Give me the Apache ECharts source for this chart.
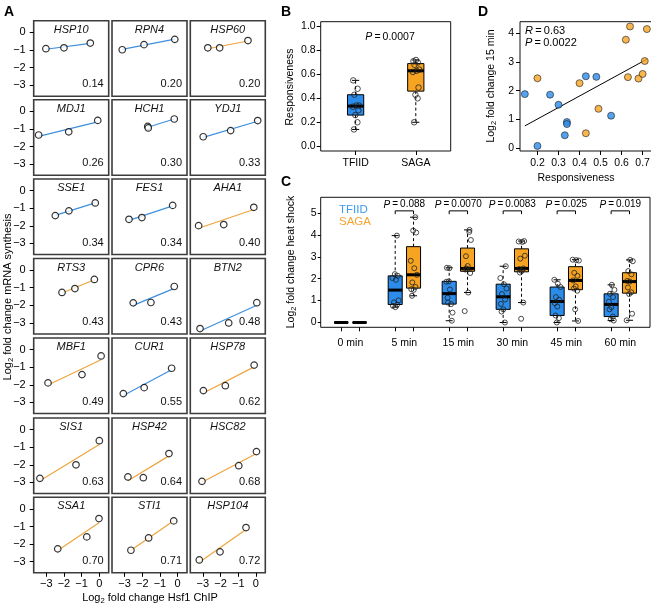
<!DOCTYPE html>
<html><head><meta charset="utf-8">
<script src="https://cdn.jsdelivr.net/npm/echarts@6/dist/echarts.min.js"></script>
<style>html,body{margin:0;padding:0;background:#fff}#c{width:651px;height:606px}</style>
</head><body><div id="c"></div>
<script>
// ================= DATA =================
// Panel A
const genes = ['HSP10','RPN4','HSP60','MDJ1','HCH1','YDJ1','SSE1','FES1','AHA1','RTS3','CPR6','BTN2','MBF1','CUR1','HSP78','SIS1','HSP42','HSC82','SSA1','STI1','HSP104'];
const geneGroup = ['TFIID','TFIID','SAGA','TFIID','TFIID','TFIID','TFIID','TFIID','SAGA','SAGA','TFIID','TFIID','SAGA','TFIID','SAGA','SAGA','SAGA','SAGA','SAGA','SAGA','SAGA'];
const responsiveness = [0.14,0.20,0.20,0.26,0.30,0.33,0.34,0.34,0.40,0.43,0.43,0.48,0.49,0.55,0.62,0.63,0.64,0.68,0.70,0.71,0.72];
const hsf1ChIP = [
  [-3.02,-2.00,-0.51],[-3.13,-1.90,-0.16],[-2.72,-2.05,-0.45],
  [-3.43,-1.73,-0.09],[-1.69,-1.66,-0.19],[-2.98,-1.43,0.10],
  [-2.49,-1.72,-0.23],[-2.75,-2.02,-0.28],[-3.24,-1.82,-0.12],
  [-2.11,-1.38,-0.28],[-2.51,-1.51,-0.19],[-3.16,-1.54,0.05],
  [-2.90,-0.98,0.10],[-3.07,-1.89,-0.34],[-2.97,-1.73,-0.10],
  [-3.36,-1.32,0.00],[-2.81,-1.94,-0.49],[-3.05,-0.97,0.03],
  [-2.35,-0.71,-0.02],[-2.64,-1.64,-0.22],[-3.20,-2.03,-0.56]
];
const mRNASynthesis = [
  [-0.93,-0.88,-0.61],[-0.99,-0.70,-0.40],[-0.88,-0.88,-0.47],
  [-1.34,-1.16,-0.51],[-0.85,-0.94,-0.43],[-1.44,-1.09,-0.52],
  [-1.42,-1.15,-0.70],[-1.63,-1.53,-0.84],[-1.99,-1.93,-0.95],
  [-1.27,-1.05,-0.53],[-1.86,-1.84,-0.93],[-3.32,-3.00,-1.85],
  [-1.89,-1.42,-0.36],[-2.50,-2.16,-1.06],[-2.33,-2.05,-0.88],
  [-2.77,-2.00,-0.63],[-2.69,-2.73,-1.36],[-2.94,-2.05,-1.25],
  [-2.27,-1.59,-0.55],[-2.35,-1.65,-0.68],[-2.90,-2.44,-1.06]
];
const aTicks = [-3,-2,-1,0];
// Panel D: log2 fold change at 15 min, per gene (same order as genes)
const fc15 = [1.88,0.08,2.43,1.86,1.51,0.45,0.91,0.84,2.26,0.52,2.50,2.48,1.37,1.13,3.77,2.47,4.23,2.42,2.58,3.03,4.14];
const dStats = {R:'0.63', P:'0.0022'};
// Panel B
const bGroups = ['TFIID','SAGA'];
const bPValue = '0.0007';
// Panel C (heat shock time course)
const timeLabels = ['0 min','5 min','15 min','30 min','45 min','60 min'];
const tfiid0 = [0,0,0,0,0,0,0,0,0,0];
const saga0  = [0,0,0,0,0,0,0,0,0,0,0];
const tfiid5 = [3.97,2.21,2.13,2.03,1.95,1.01,0.92,0.82,0.76,0.70];
const saga5  = [4.81,4.20,4.11,2.82,2.48,2.18,1.83,1.62,1.52,1.49,1.22];
const tfiid30 = [2.57,2.03,1.75,1.55,1.30,1.05,0.85,0.60,0.50,0.00];
const saga30  = [3.72,3.70,3.68,3.05,2.92,2.47,2.44,2.35,2.28,0.91,0.17];
const tfiid45 = [1.95,1.77,1.62,1.16,1.04,0.88,0.73,0.32,0.20,0.00];
const saga45  = [2.87,2.85,2.83,2.27,2.13,1.92,1.65,1.55,1.45,0.60,0.07];
const tfiid60 = [1.72,1.49,1.31,1.16,0.95,0.70,0.60,0.27,0.15,0.09];
const saga60  = [2.86,2.80,2.35,2.20,1.90,1.87,1.60,1.38,1.30,0.40,0.10];
const cPValues = ['0.088','0.0070','0.0083','0.025','0.019'];

// ================= HELPERS =================
const FONT = '"Liberation Sans", Arial, Helvetica, sans-serif';
const BLUE = '#2b8ceb', ORANGE = '#f7a423';
const LBLUE = '#3d8fdf', LORANGE = '#eda43c';
const TXT_BLUE = '#3a9bf0', TXT_ORANGE = '#f3a432';
const minus = v => (v < 0 ? '\u2212' + Math.abs(v) : String(v));
const jitter = [-0.45,0.5,-0.1,0.75,-0.8,0.2,0.95,-0.35,0.55,-0.65,0.05];

function fitLine(xs, ys) {
  const n = xs.length;
  const mx = xs.reduce((a,b)=>a+b,0)/n, my = ys.reduce((a,b)=>a+b,0)/n;
  let sxy = 0, sxx = 0;
  for (let k=0;k<n;k++){ sxy += (xs[k]-mx)*(ys[k]-my); sxx += (xs[k]-mx)*(xs[k]-mx); }
  const b = sxy/sxx, a = my - b*mx;
  const x0 = Math.min(...xs), x1 = Math.max(...xs);
  return [[x0, a+b*x0],[x1, a+b*x1]];
}
function fivenum(arr){
  const x = [...arr].sort((p,q)=>p-q), n = x.length;
  const n4 = Math.floor((n+3)/2)/2;
  return [1, n4, (n+1)/2, n+1-n4, n].map(d => 0.5*(x[Math.floor(d)-1] + x[Math.ceil(d)-1]));
}
function boxStats(arr){
  const f = fivenum(arr), iqr = f[3]-f[1];
  const lo = f[1]-1.5*iqr, hi = f[3]+1.5*iqr;
  const inn = [...arr].sort((p,q)=>p-q).filter(v => v>=lo-1e-9 && v<=hi+1e-9);
  return [inn[0], f[1], f[2], f[3], inn[inn.length-1]];
}
function boxRender(fill, hw, cap){
  return function(params, api){
    const x = api.value(0);
    const v = [1,2,3,4,5].map(k=>api.value(k));
    const c = v.map(y=>api.coord([x,y]));
    const cx = c[0][0];
    const L = api.coord([x-hw, v[2]])[0], R = api.coord([x+hw, v[2]])[0];
    const cL = api.coord([x-cap, v[2]])[0], cR = api.coord([x+cap, v[2]])[0];
    const dash = {stroke:'#000', lineWidth:1, lineDash:[3,2.5]};
    const solid = {stroke:'#000', lineWidth:1};
    const ch = [];
    if (v[4] > v[3]) ch.push({type:'line', shape:{x1:cx,y1:c[3][1],x2:cx,y2:c[4][1]}, style:dash},
                             {type:'line', shape:{x1:cL,y1:c[4][1],x2:cR,y2:c[4][1]}, style:solid});
    if (v[0] < v[1]) ch.push({type:'line', shape:{x1:cx,y1:c[1][1],x2:cx,y2:c[0][1]}, style:dash},
                             {type:'line', shape:{x1:cL,y1:c[0][1],x2:cR,y2:c[0][1]}, style:solid});
    ch.push({type:'rect', shape:{x:L, y:c[3][1], width:R-L, height:Math.max(0.01,c[1][1]-c[3][1])}, style:{fill:fill, stroke:'#000', lineWidth:1}});
    ch.push({type:'line', shape:{x1:L,y1:c[2][1],x2:R,y2:c[2][1]}, style:{stroke:'#000', lineWidth:3}});
    return {type:'group', children:ch};
  };
}
function valAxis(grid, min, max, ticks, opts){
  opts = opts || {};
  return {
    gridIndex:grid, type:'value', min:min, max:max,
    axisLine:{show:false, onZero:false}, splitLine:{show:false},
    axisTick:{show: opts.showTick !== false, length: opts.tickLen || 4, customValues: opts.tickValues || ticks, lineStyle:{color:'#000', width:1}},
    axisLabel:{show: opts.showLabel !== false, customValues: ticks, formatter: opts.fmt || minus,
      fontFamily:FONT, fontSize: opts.fs || 10.5, color:'#000', margin: opts.margin || 6},
    silent:true
  };
}

const grids = [], xAxes = [], yAxes = [], series = [], graphics = [];

// ================= PANEL A =================
const aLeft = [33.7, 112, 190.3], aTop = [20.7, 99.8, 179, 258.5, 338, 418, 497.3];
const aW = 75, aH = 75.5;
genes.forEach((g,i)=>{
  const r = Math.floor(i/3), c = i%3;
  grids.push({left:aLeft[c], top:aTop[r], width:aW, height:aH, show:true, borderColor:'#3c3c3c', borderWidth:1.6, backgroundColor:'#fff', outerBoundsMode:'none'});
  xAxes.push(valAxis(i, -3.71, 0.53, aTicks, {showTick:r===6, showLabel:r===6, margin:6, fs:11, tickLen:4}));
  yAxes.push(valAxis(i, -3.63, 0.66, aTicks, {showTick:c===0, showLabel:c===0, margin:8, fs:11, tickLen:4}));
  const xs = hsf1ChIP[i], ys = mRNASynthesis[i];
  const col = geneGroup[i]==='TFIID' ? LBLUE : LORANGE;
  series.push({type:'line', xAxisIndex:i, yAxisIndex:i, data:fitLine(xs,ys), symbol:'none', silent:true, z:2,
    lineStyle:{color:col, width:1.2}, animation:false});
  series.push({type:'scatter', xAxisIndex:i, yAxisIndex:i, data:xs.map((x,k)=>[x, ys[k]]), symbol:'circle', symbolSize:6.5, silent:true, z:3,
    itemStyle:{color:'#fff', borderColor:'#000', borderWidth:1.2}, animation:false});
  graphics.push({type:'text', x:aLeft[c]+aW/2, y:aTop[r]+9, style:{text:g, fontFamily:FONT, fontSize:11, fontStyle:'italic', fill:'#111', align:'center', verticalAlign:'middle'}});
  graphics.push({type:'text', x:aLeft[c]+aW-5, y:aTop[r]+63.5, style:{text:responsiveness[i].toFixed(2), fontFamily:FONT, fontSize:11, fill:'#111', align:'right', verticalAlign:'middle'}});
});

// ================= PANEL B =================
const gB = grids.length;
grids.push({left:320.7, top:21.7, width:130, height:129.3, show:true, borderColor:'#111', borderWidth:1, outerBoundsMode:'none'});
xAxes.push(valAxis(gB, 0.42, 2.58, [1,2], {fmt:v=>bGroups[v-1], margin:7}));
yAxes.push(valAxis(gB, -0.04, 1.04, [0,0.2,0.4,0.6,0.8,1.0], {fmt:v=>v.toFixed(1), margin:5}));
const bVals = bGroups.map(G => responsiveness.filter((v,i)=>geneGroup[i]===G));
series.push({type:'custom', xAxisIndex:gB, yAxisIndex:gB, z:2, silent:true,
  renderItem:(p,api)=>boxRender(api.value(6)===0?BLUE:ORANGE, 0.135, 0.06)(p,api),
  encode:{x:0, y:[1,2,3,4,5]},
  data: bVals.map((vals,k)=>[k+1, ...boxStats(vals), k])});
bVals.forEach((vals,k)=>{
  series.push({type:'scatter', xAxisIndex:gB, yAxisIndex:gB, z:3, silent:true, symbol:'circle', symbolSize:5.5,
    itemStyle:{color:'rgba(0,0,0,0)', borderColor:'#222', borderWidth:1},
    data: vals.map((v,j)=>[k+1+jitter[j%jitter.length]*0.06, v])});
});

// ================= PANEL C =================
const gC = grids.length;
grids.push({left:320.7, top:197.3, width:329.3, height:130, show:true, borderColor:'#111', borderWidth:1, outerBoundsMode:'none'});
const cOff = 0.17;
const cTickVals = []; timeLabels.forEach((t,i)=>{cTickVals.push(i-cOff, i+cOff);});
xAxes.push(valAxis(gC, -0.55, 5.55, [0,1,2,3,4,5], {fmt:v=>timeLabels[v], tickValues:cTickVals, margin:10}));
yAxes.push(valAxis(gC, -0.22, 5.72, [0,1,2,3,4,5], {margin:4, tickLen:3}));
const tfiid15 = fc15.filter((v,i)=>geneGroup[i]==='TFIID');
const saga15  = fc15.filter((v,i)=>geneGroup[i]==='SAGA');
const cTFIID = [tfiid0, tfiid5, tfiid15, tfiid30, tfiid45, tfiid60];
const cSAGA  = [saga0, saga5, saga15, saga30, saga45, saga60];
const cBoxData = [];
cTFIID.forEach((vals,t)=>cBoxData.push([t-cOff, ...boxStats(vals), 0]));
cSAGA.forEach((vals,t)=>cBoxData.push([t+cOff, ...boxStats(vals), 1]));
series.push({type:'custom', xAxisIndex:gC, yAxisIndex:gC, z:2, silent:true,
  renderItem:(p,api)=>boxRender(api.value(6)===0?BLUE:ORANGE, 0.13, 0.065)(p,api),
  encode:{x:0, y:[1,2,3,4,5]}, data:cBoxData});
[cTFIID, cSAGA].forEach((grp,gi)=>{
  const pts = [];
  grp.forEach((vals,t)=>{ if (t===0) return; vals.forEach((v,j)=>pts.push([t+(gi?cOff:-cOff)+jitter[(j+t)%jitter.length]*0.065, v])); });
  series.push({type:'scatter', xAxisIndex:gC, yAxisIndex:gC, z:3, silent:true, symbol:'circle', symbolSize:5,
    itemStyle:{color:'rgba(0,0,0,0)', borderColor:'#222', borderWidth:1}, data:pts});
});
// significance brackets
series.push({type:'custom', xAxisIndex:gC, yAxisIndex:gC, z:4, silent:true,
  encode:{x:0, y:1},
  data: cPValues.map((p,k)=>[k+1, 5.1, k]),
  renderItem:(params, api)=>{
    const x = api.value(0), y = api.value(1), k = api.value(2);
    const a = api.coord([x-cOff, y]), b = api.coord([x+cOff, y]);
    const a2 = api.coord([x-cOff, y-0.15]), b2 = api.coord([x+cOff, y-0.15]);
    const t = api.coord([x, y+0.28]);
    return {type:'group', children:[
      {type:'polyline', shape:{points:[a2, a, b, b2]}, style:{stroke:'#000', lineWidth:1, fill:null}},
      {type:'text', x:t[0], y:t[1], style:{text:'{i|P}{n|\u2009=\u2009'+cPValues[k]+'}', align:'center', verticalAlign:'middle',
        rich:{i:{fontFamily:FONT, fontSize:10, fontStyle:'italic', fill:'#000'}, n:{fontFamily:FONT, fontSize:10, fill:'#000'}}}}
    ]};
  }});

// ================= PANEL D =================
const gD = grids.length;
grids.push({left:520, top:21.7, width:131.7, height:129.3, show:true, borderColor:'#111', borderWidth:1, outerBoundsMode:'none'});
xAxes.push(valAxis(gD, 0.117, 0.743, [0.2,0.3,0.4,0.5,0.6,0.7], {fmt:v=>v.toFixed(1), margin:7}));
yAxes.push(valAxis(gD, -0.096, 4.396, [0,1,2,3,4], {margin:6}));
series.push({type:'line', xAxisIndex:gD, yAxisIndex:gD, z:2, silent:true, symbol:'none',
  data: fitLine(responsiveness, fc15), lineStyle:{color:'#000', width:1}});
['TFIID','SAGA'].forEach(G=>{
  series.push({type:'scatter', xAxisIndex:gD, yAxisIndex:gD, z:3, silent:true, symbol:'circle', symbolSize:7,
    itemStyle:{color: G==='TFIID'?BLUE:ORANGE, borderColor:'#222', borderWidth:0.8},
    data: responsiveness.map((r,i)=>[r, fc15[i], i]).filter(d=>geneGroup[d[2]]===G).map(d=>[d[0],d[1]])});
});

// ================= TEXT / TITLES =================
const rich = fs => ({n:{fontFamily:FONT, fontSize:fs, fill:'#000'}, s:{fontFamily:FONT, fontSize:fs*0.7, fill:'#000', padding:[fs*0.5,0,0,0]},
  i:{fontFamily:FONT, fontSize:fs, fontStyle:'italic', fill:'#000'}});
function txt(x,y,text,opt){ opt=opt||{}; return {type:'text', x:x, y:y, rotation:opt.rot||0,
  style:{text:text, rich:opt.plain?null:rich(opt.fs||10.5), fontFamily:FONT, fontSize:opt.fs||10.5, fontWeight:opt.bold?'bold':'normal', fill:opt.fill||'#000',
  align:opt.align||'center', verticalAlign:'middle'}}; }
graphics.push(
  txt(9,12,'A',{fs:14,bold:true,plain:true}), txt(286,12,'B',{fs:14,bold:true,plain:true}), txt(286,182,'C',{fs:14,bold:true,plain:true}), txt(483,12,'D',{fs:14,bold:true,plain:true}),
  txt(8,297,'{n|Log}{s|2}{n| fold change mRNA synthesis}',{rot:Math.PI/2, fs:11}),
  txt(150,598,'{n|Log}{s|2}{n| fold change Hsf1 ChIP}',{fs:11}),
  txt(290,87,'{n|Responsiveness}',{rot:Math.PI/2}),
  txt(390,37,'{i|P}{n|\u2009=\u2009'+bPValue+'}'),
  txt(291,262,'{n|Log}{s|2}{n| fold change heat shock}',{rot:Math.PI/2}),
  txt(339,210,'TFIID',{align:'left', fill:TXT_BLUE, fs:11.5, plain:true}),
  txt(339,222,'SAGA',{align:'left', fill:TXT_ORANGE, fs:11.5, plain:true}),
  txt(491,86,'{n|Log}{s|2}{n| fold change 15 min}',{rot:Math.PI/2}),
  txt(576,178,'{n|Responsiveness}'),
  txt(525,31,'{i|R}{n|\u2009=\u2009'+dStats.R+'}',{align:'left', fs:11}),
  txt(525,42.5,'{i|P}{n|\u2009=\u2009'+dStats.P+'}',{align:'left', fs:11})
);

const chart = echarts.init(document.getElementById('c'), null, {renderer:'canvas', width:651, height:606});
chart.setOption({
  animation:false, backgroundColor:'#fff',
  textStyle:{fontFamily:FONT},
  grid:grids, xAxis:xAxes, yAxis:yAxes, series:series, graphic:graphics
});
</script>
</body></html>
